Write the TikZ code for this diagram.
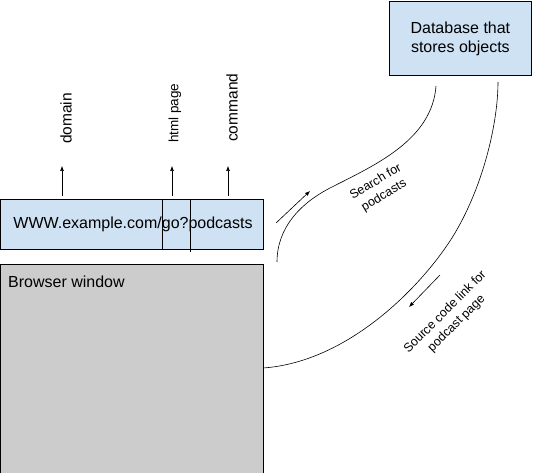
\documentclass[tikz,border=0pt]{standalone}
\usepackage{fontspec}
\setmainfont{Liberation Sans}
\usetikzlibrary{arrows.meta}
\definecolor{boxblue}{HTML}{CFE2F3}
\definecolor{boxgray}{HTML}{CCCCCC}
\begin{document}
\begin{tikzpicture}[x=1pt,y=-1pt,
  bluebox/.style={draw=black,fill=boxblue,line width=0.8pt},
  graybox/.style={draw=black,fill=boxgray,line width=0.8pt},
  arr/.style={-{Latex[length=5pt,width=4pt]},line width=0.6pt},
  conn/.style={line width=0.6pt},
  vlabel/.style={rotate=90,anchor=west,inner sep=0pt,font=\fontsize{15.5}{18}\selectfont},
  slabel/.style={align=center,inner sep=0pt,font=\fontsize{12.5}{16}\selectfont}
]
\useasboundingbox (0,0) rectangle (533,473);
% URL box
\node[bluebox,minimum width=263pt,minimum height=50pt,anchor=north west,inner sep=0pt] (url) at (0.4,199) {};
\node[font=\fontsize{16}{19}\selectfont] (urltext) at (133,224) {WWW.example.com/go?podcasts};
\coordinate (d1t) at (162,199); \coordinate (d1b) at (162,249);
\coordinate (d2t) at (190,199); \coordinate (d2b) at (190,252);
\draw[line width=0.6pt] (d1t) -- (d1b);
\draw[line width=0.6pt] (d2t) -- (d2b);
% up arrows
\coordinate (a1s) at (62,196); \coordinate (a1e) at (62,166);
\coordinate (a2s) at (172,196); \coordinate (a2e) at (172,166);
\coordinate (a3s) at (228,196); \coordinate (a3e) at (228,166);
\draw[arr] (a1s) -- (a1e);
\draw[arr] (a2s) -- (a2e);
\draw[arr] (a3s) -- (a3e);
\node[vlabel] (ldomain) at (66,144) {domain};
\node[vlabel,font=\fontsize{13.5}{16}\selectfont] (lhtml) at (175,143) {html page};
\node[vlabel] (lcommand) at (232,142) {command};
% Browser window
\node[graybox,minimum width=263pt,minimum height=209pt,anchor=north west,inner sep=0pt] (browser) at (0.4,264) {};
\node[anchor=west,inner sep=0pt,font=\fontsize{16}{19}\selectfont] (btext) at (8,282) {Browser window};
% Database
\node[bluebox,minimum width=142pt,minimum height=74pt,anchor=north west,inner sep=0pt,align=center,font=\fontsize{16}{19}\selectfont] (db) at (389,1) {Database that\\stores objects};
% curve 1 (browser -> database)
\coordinate (c1s) at (277,262);
\coordinate (c1m) at (332,187);
\coordinate (c1e) at (436,86);
\draw[conn] (c1s) .. controls (277,228) and (300,203) .. (c1m)
                  .. controls (375,165) and (432,140) .. (c1e);
% curve 2 (database -> browser)
\coordinate (c2s) at (263,368);
\coordinate (c2m) at (455,233);
\coordinate (c2e) at (498,82);
\draw[conn] (c2s) .. controls (350,362) and (425,283) .. (c2m)
                  .. controls (485,182) and (498,120) .. (c2e);
% arrows along curves
\coordinate (s1a) at (276,223); \coordinate (s1b) at (310,191);
\draw[arr] (s1a) -- (s1b);
\coordinate (s2a) at (440,275); \coordinate (s2b) at (409,307);
\draw[arr] (s2a) -- (s2b);
% curve labels
\node[slabel,rotate=31] (lsearch) at (380,189) {Search for\\podcasts};
\node[slabel,rotate=45] (lsource) at (451,318) {Source code link for\\podcast page};
\end{tikzpicture}
\end{document}
